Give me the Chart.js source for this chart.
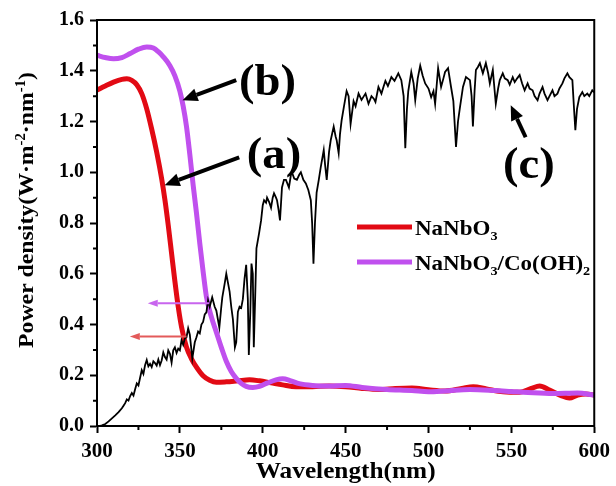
<!DOCTYPE html>
<html>
<head>
<meta charset="utf-8">
<script src="https://cdn.jsdelivr.net/npm/chart.js@4.4.1/dist/chart.umd.min.js"></script>
<style>
  html, body { margin: 0; padding: 0; background: #fff; }
  #chart { display: block; }
</style>
</head>
<body>
<canvas id="chart" width="616" height="486"></canvas>
<script>
// (a) NaNbO3
const redWl = [300, 305, 310, 315, 318, 321, 324, 327, 330, 333, 336, 339, 341, 343, 345, 347, 349, 351, 354, 357, 360, 364, 368, 372, 378, 385, 392, 398, 405, 412, 420, 430, 440, 450, 460, 470, 480, 490, 500, 510, 520, 527, 535, 545, 555, 562, 567, 573, 580, 585, 590, 595, 600];
const redVal = [1.324, 1.34, 1.355, 1.366, 1.368, 1.362, 1.345, 1.31, 1.25, 1.17, 1.08, 0.975, 0.89, 0.79, 0.68, 0.57, 0.47, 0.39, 0.31, 0.265, 0.232, 0.198, 0.18, 0.172, 0.174, 0.178, 0.182, 0.178, 0.17, 0.162, 0.155, 0.155, 0.158, 0.155, 0.148, 0.144, 0.148, 0.15, 0.143, 0.138, 0.148, 0.155, 0.146, 0.135, 0.133, 0.148, 0.158, 0.142, 0.12, 0.11, 0.122, 0.126, 0.122];

// (b) NaNbO3/Co(OH)2
const purpleWl = [300, 305, 310, 315, 320, 325, 330, 334, 337, 340, 344, 347, 350, 352, 354, 356, 358, 360, 362, 364, 366, 369, 372, 375, 378, 381, 384, 387, 390, 394, 398, 403, 408, 412, 417, 422, 430, 440, 450, 460, 475, 490, 500, 510, 525, 540, 550, 560, 575, 590, 600];
const purpleVal = [1.461, 1.452, 1.447, 1.452, 1.468, 1.485, 1.494, 1.49, 1.475, 1.455, 1.42, 1.38, 1.32, 1.26, 1.18, 1.07, 0.95, 0.84, 0.72, 0.61, 0.51, 0.43, 0.37, 0.31, 0.255, 0.215, 0.188, 0.168, 0.156, 0.152, 0.156, 0.17, 0.182, 0.186, 0.178, 0.167, 0.16, 0.158, 0.16, 0.152, 0.144, 0.14, 0.135, 0.138, 0.144, 0.14, 0.136, 0.132, 0.128, 0.13, 0.122];

// (c) solar spectrum
const solarWl = [301.5, 303, 305, 307, 309, 311, 313, 315, 316, 317, 318, 319, 320, 321, 322, 323, 324, 325, 326, 327, 328, 329, 330, 331, 332, 333, 334, 335, 336, 337, 338, 339, 340, 341, 342, 343, 344, 345, 346, 347, 348, 349, 350, 351, 352, 353, 354, 355, 356, 357.5, 359, 360, 361, 362, 363, 364, 365, 366, 367, 368, 369.5, 371, 372, 373.8, 375, 375.6, 377, 378, 379, 380, 381, 382, 383.2, 384, 385, 386, 387, 388, 389, 390, 391, 391.6, 392.5, 393.2, 394, 394.6, 395.4, 396.2, 397.8, 399, 400, 400.8, 402, 402.6, 404, 405, 406, 406.8, 408, 408.6, 409.6, 410.4, 411.6, 412.8, 414, 415.8, 417, 417.6, 419, 420.6, 422, 423, 424.5, 426, 427.5, 429, 429.8, 430.6, 431.5, 432.5, 433.8, 435, 436.8, 437.6, 438.6, 440, 441, 442.8, 444, 444.6, 445.8, 446.6, 447.6, 449, 450.6, 451.8, 453, 453.6, 454.8, 456, 457.8, 459.6, 461, 462, 463.8, 465.6, 467, 468, 469.8, 471.6, 473, 474, 475.5, 477.6, 479.5, 481.8, 483.6, 485, 486, 487, 487.8, 489.6, 491, 492, 493.5, 495, 496.5, 498, 500, 501.6, 503, 504, 505.8, 507.6, 509, 510, 511.8, 513.6, 515, 516.6, 517.8, 519, 520.8, 522.6, 525, 526, 526.8, 527.8, 528.6, 529.8, 531, 532.8, 534.6, 536, 537, 538.8, 540.6, 542, 543, 544.8, 546, 547.8, 549, 550.8, 552, 553.5, 555, 556.5, 558, 559.8, 561, 562.8, 564, 565.8, 567, 568.8, 570, 571.8, 573, 574.8, 576, 577.8, 579, 580.8, 582, 583.8, 585, 586.8, 587.8, 588.6, 589.6, 591, 592.8, 594, 595.8, 597, 598.8, 600];
const solarVal = [0.0, 0.003, 0.008, 0.018, 0.03, 0.042, 0.055, 0.07, 0.08, 0.09, 0.105, 0.1, 0.118, 0.13, 0.12, 0.145, 0.168, 0.16, 0.19, 0.22, 0.205, 0.24, 0.26, 0.235, 0.245, 0.232, 0.255, 0.248, 0.238, 0.262, 0.24, 0.258, 0.29, 0.272, 0.262, 0.298, 0.285, 0.25, 0.298, 0.31, 0.288, 0.305, 0.298, 0.338, 0.32, 0.345, 0.35, 0.385, 0.36, 0.266, 0.33, 0.35, 0.372, 0.365, 0.4, 0.41, 0.44, 0.448, 0.495, 0.47, 0.507, 0.47, 0.455, 0.388, 0.47, 0.507, 0.56, 0.6, 0.565, 0.53, 0.47, 0.42, 0.31, 0.33, 0.45, 0.47, 0.465, 0.5, 0.58, 0.635, 0.5, 0.28, 0.45, 0.64, 0.6, 0.31, 0.5, 0.7, 0.76, 0.81, 0.87, 0.89, 0.88, 0.9, 0.88, 0.86, 0.9, 0.917, 0.9, 0.89, 0.85, 0.81, 0.94, 0.97, 0.97, 0.94, 0.99, 1.0, 0.975, 0.97, 0.99, 1.0, 0.97, 0.956, 0.93, 0.89, 0.8, 0.64, 0.8, 0.92, 0.97, 1.02, 1.087, 1.03, 0.97, 1.08, 1.126, 1.18, 1.14, 1.126, 1.075, 1.15, 1.205, 1.26, 1.32, 1.3, 1.19, 1.22, 1.28, 1.26, 1.31, 1.285, 1.3, 1.31, 1.27, 1.3, 1.29, 1.277, 1.336, 1.31, 1.34, 1.36, 1.34, 1.375, 1.36, 1.39, 1.363, 1.3, 1.095, 1.25, 1.32, 1.395, 1.35, 1.284, 1.37, 1.42, 1.38, 1.35, 1.33, 1.296, 1.32, 1.27, 1.41, 1.336, 1.37, 1.395, 1.41, 1.336, 1.28, 1.1, 1.2, 1.257, 1.336, 1.375, 1.363, 1.3, 1.18, 1.32, 1.403, 1.415, 1.43, 1.39, 1.43, 1.39, 1.35, 1.403, 1.27, 1.33, 1.363, 1.39, 1.37, 1.363, 1.345, 1.375, 1.355, 1.37, 1.383, 1.35, 1.323, 1.35, 1.33, 1.323, 1.3, 1.284, 1.31, 1.336, 1.31, 1.284, 1.3, 1.323, 1.3, 1.31, 1.33, 1.35, 1.37, 1.39, 1.375, 1.363, 1.25, 1.166, 1.25, 1.296, 1.316, 1.3, 1.31, 1.3, 1.323, 1.315];

const xTicks = [300, 350, 400, 450, 500, 550, 600];
const yTicks = [0.0, 0.2, 0.4, 0.6, 0.8, 1.0, 1.2, 1.4, 1.6];
const legendLabels = [[["NaNbO"], ["3", "sub"]], [["NaNbO"], ["3", "sub"], ["/Co(OH)"], ["2", "sub"]]];
const yTitle = [["Power density(W\u00b7m"], ["-2", "sup"], ["\u00b7nm"], ["-1", "sup"], [")"]];
const xTitle = [["Wavelength(nm)"]];
const tags = [
  { text: "(b)", x: 402.9, y: 1.304, from: [384, 1.363], to: [351.6, 1.284] },
  { text: "(a)", x: 406.8, y: 1.016, from: [385.8, 1.059], to: [340.8, 0.949] },
  { text: "(c)", x: 560.5, y: 0.977, from: [558.6, 1.138], to: [549.6, 1.264] },
];

const RED = "#e20a14";
const PURPLE = "#c050ee";
const FONT = '"Liberation Serif", "Times New Roman", serif';

const toPts = (xs, ys) => xs.map((x, i) => ({ x: x, y: ys[i] }));

const richText = (ctx, parts, x, y, size, align, sx) => {
  ctx.save();
  ctx.translate(x, y);
  ctx.scale(sx, 1);
  const fontFor = (p) => "bold " + (p[1] ? size * 0.62 : size) + "px " + FONT;
  let total = 0;
  for (const p of parts) {
    ctx.font = fontFor(p);
    total += ctx.measureText(p[0]).width;
  }
  let cx = align === "center" ? -total / 2 : 0;
  ctx.textBaseline = "alphabetic";
  ctx.textAlign = "left";
  ctx.fillStyle = "#000";
  for (const p of parts) {
    ctx.font = fontFor(p);
    const dy = p[1] === "sub" ? size * 0.24 : p[1] === "sup" ? -size * 0.38 : 0;
    ctx.fillText(p[0], cx, dy);
    cx += ctx.measureText(p[0]).width;
  }
  ctx.restore();
};

const arrow = (ctx, x1, y1, x2, y2, color, lw, hl, hw) => {
  const a = Math.atan2(y2 - y1, x2 - x1);
  const bx = x2 - hl * Math.cos(a);
  const by = y2 - hl * Math.sin(a);
  ctx.strokeStyle = color;
  ctx.lineWidth = lw;
  ctx.beginPath();
  ctx.moveTo(x1, y1);
  ctx.lineTo(bx, by);
  ctx.stroke();
  ctx.fillStyle = color;
  ctx.beginPath();
  ctx.moveTo(x2, y2);
  ctx.lineTo(bx + (hw / 2) * Math.sin(a), by - (hw / 2) * Math.cos(a));
  ctx.lineTo(bx - (hw / 2) * Math.sin(a), by + (hw / 2) * Math.cos(a));
  ctx.closePath();
  ctx.fill();
};

const decor = {
  id: "decor",
  afterDatasetsDraw(chart) {
    const ctx = chart.ctx;
    const a = chart.chartArea;
    const xs = chart.scales.x;
    const ys = chart.scales.y;
    ctx.save();

    // frame
    ctx.strokeStyle = "#000";
    ctx.lineWidth = 2;
    ctx.strokeRect(a.left, a.top, a.right - a.left, a.bottom - a.top);

    // minor ticks
    ctx.beginPath();
    for (let i = 0; i < xTicks.length - 1; i++) {
      const px = xs.getPixelForValue((xTicks[i] + xTicks[i + 1]) / 2);
      ctx.moveTo(px, a.bottom);
      ctx.lineTo(px, a.bottom + 4);
    }
    for (let i = 0; i < yTicks.length - 1; i++) {
      const py = ys.getPixelForValue((yTicks[i] + yTicks[i + 1]) / 2);
      ctx.moveTo(a.left, py);
      ctx.lineTo(a.left - 4, py);
    }
    ctx.stroke();

    // small coloured arrows pointing to left axis
    arrow(ctx, xs.getPixelForValue(367.8), ys.getPixelForValue(0.484), xs.getPixelForValue(330.6), ys.getPixelForValue(0.484), "#c865ee", 2, 10, 7);
    arrow(ctx, xs.getPixelForValue(354), ys.getPixelForValue(0.353), xs.getPixelForValue(319.8), ys.getPixelForValue(0.353), "#e35a5a", 2, 10, 7);

    // labelled black arrows
    for (const t of tags) {
      arrow(ctx, xs.getPixelForValue(t.from[0]), ys.getPixelForValue(t.from[1]), xs.getPixelForValue(t.to[0]), ys.getPixelForValue(t.to[1]), "#000", 4, 15, 13);
      richText(ctx, [[t.text]], xs.getPixelForValue(t.x), ys.getPixelForValue(t.y), 44, "center", 1.06);
    }

    // legend
    const lx = a.left + 260;
    const rows = [
      { color: RED, y: a.top + 207 },
      { color: PURPLE, y: a.top + 242 },
    ];
    rows.forEach((r, i) => {
      ctx.strokeStyle = r.color;
      ctx.lineWidth = 5;
      ctx.beginPath();
      ctx.moveTo(lx, r.y);
      ctx.lineTo(lx + 55, r.y);
      ctx.stroke();
      richText(ctx, legendLabels[i], lx + 58, r.y + 8, 20, "left", 1.15);
    });

    // axis titles
    ctx.save();
    ctx.translate(33, (a.top + a.bottom) / 2 - 13);
    ctx.rotate(-Math.PI / 2);
    richText(ctx, yTitle, 0, 0, 22, "center", 1.08);
    ctx.restore();
    richText(ctx, xTitle, (a.left + a.right) / 2, 478, 23, "center", 1.1);

    ctx.restore();
  },
};

const chart = new Chart(document.getElementById("chart"), {
  type: "line",
  data: {
    datasets: [
      {
        label: "(c)",
        data: toPts(solarWl, solarVal),
        borderColor: "#000",
        borderWidth: 1.8,
        pointRadius: 0,
        tension: 0,
        order: 0,
      },
      {
        label: "NaNbO3/Co(OH)2",
        data: toPts(purpleWl, purpleVal),
        borderColor: PURPLE,
        borderWidth: 5,
        pointRadius: 0,
        cubicInterpolationMode: "monotone",
        order: 1,
      },
      {
        label: "NaNbO3",
        data: toPts(redWl, redVal),
        borderColor: RED,
        borderWidth: 5,
        pointRadius: 0,
        cubicInterpolationMode: "monotone",
        order: 2,
      },
    ],
  },
  options: {
    responsive: false,
    animation: false,
    devicePixelRatio: 1,
    layout: { padding: { top: 20, right: 19, left: 0, bottom: 0 } },
    plugins: { legend: { display: false }, tooltip: { enabled: false } },
    scales: {
      x: {
        type: "linear",
        min: 300,
        max: 600,
        afterFit: (s) => { s.height = 60; },
        afterBuildTicks: (s) => { s.ticks = xTicks.map((v) => ({ value: v })); },
        ticks: {
          color: "#000",
          padding: 6,
          maxRotation: 0,
          font: { family: FONT, weight: "bold", size: 21 },
          callback: (v) => String(v),
        },
        grid: { drawOnChartArea: false, tickLength: 7, tickWidth: 2, tickColor: "#000" },
        border: { display: true, width: 2, color: "#000" },
      },
      y: {
        type: "linear",
        min: 0,
        max: 1.6,
        afterFit: (s) => { s.width = 97; },
        afterBuildTicks: (s) => { s.ticks = yTicks.map((v) => ({ value: v })); },
        ticks: {
          color: "#000",
          padding: 6,
          font: { family: FONT, weight: "bold", size: 20 },
          callback: (v) => Number(v).toFixed(1),
        },
        grid: { drawOnChartArea: false, tickLength: 7, tickWidth: 2, tickColor: "#000" },
        border: { display: true, width: 2, color: "#000" },
      },
    },
  },
  plugins: [decor],
});
</script>
</body>
</html>
